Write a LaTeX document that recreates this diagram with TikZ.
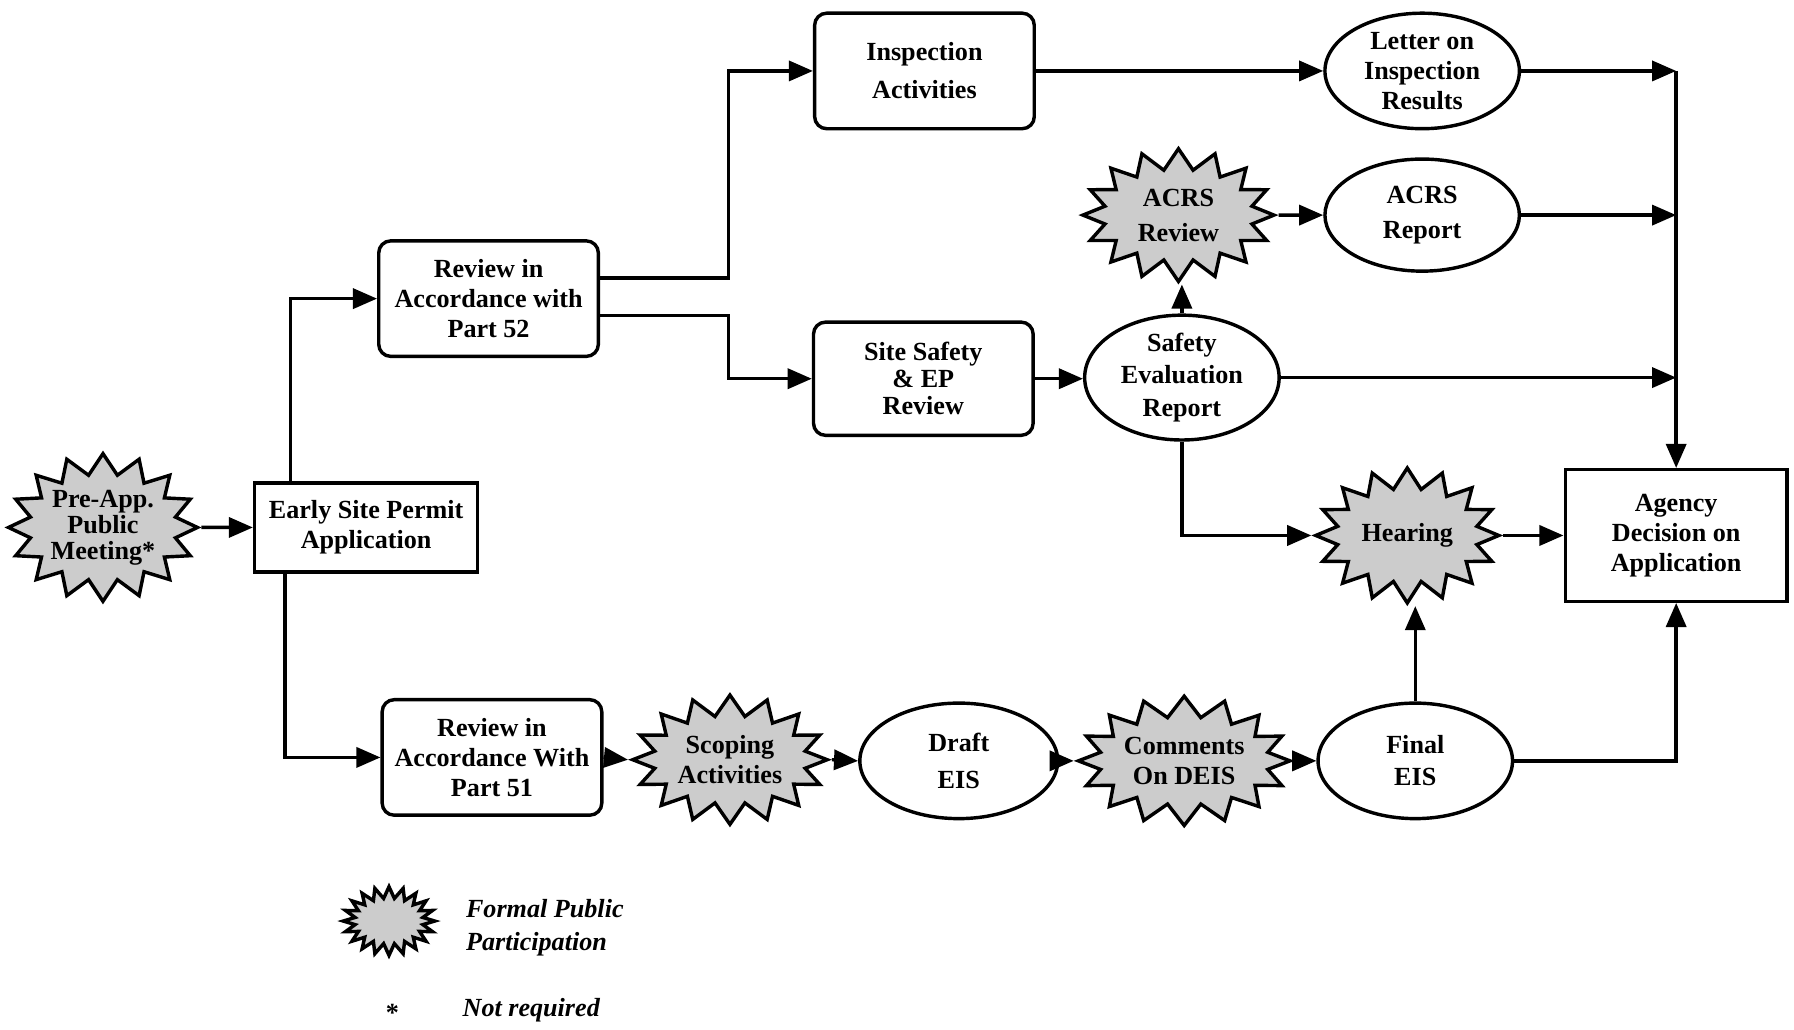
\documentclass[tikz,border=0pt]{standalone}
\usepackage{fontspec}
\setmainfont{Liberation Serif}
\usetikzlibrary{arrows.meta,shapes.geometric,shapes.symbols}
\begin{document}
\begin{tikzpicture}[x=0.02cm,y=-0.02cm,line width=1.7pt,>={Triangle[length=12pt,width=10pt]},
  every node/.style={font=\fontsize{13}{15}\selectfont\bfseries,align=center},
  rbox/.style={draw,rounded corners=6pt,minimum width=3.84cm,minimum height=2.02cm,inner sep=1pt},
  sbox/.style={draw,minimum width=3.9cm,minimum height=1.56cm,inner sep=1pt},
  oval/.style={draw,ellipse,minimum width=3.4cm,minimum height=2.02cm,inner sep=0pt},
  burst/.style={draw,starburst,fill=black!20,starburst points=16,starburst point height=0.36cm,random starburst=0,minimum width=3.3cm,minimum height=2.3cm,inner sep=0pt}]
\useasboundingbox (0,0) rectangle (1568,900);

\node[burst] (preapp) at (90,461) {Pre-App.\\[-2pt]Public\\[-2pt]Meeting*};
\node[sbox] (esp) at (320,461) {Early Site Permit\\Application};
\node[rbox] (rev52) at (427,261) {Review in\\Accordance with\\Part 52};
\node[rbox] (rev51) at (430,662) {Review in\\Accordance With\\Part 51};
\node[rbox] (insp) at (808,62) {Inspection\\[4pt]Activities};
\node[rbox,minimum height=1.98cm] (sitesafety) at (807,331) {Site Safety\\[-1.5pt]\& EP\\[-1.5pt]Review};
\node[oval] (letter) at (1243,62) {Letter on\\Inspection\\Results};
\node[burst,minimum width=3.34cm,minimum height=2.32cm] (acrsrev) at (1030,188) {ACRS\\[2.5pt]Review};
\node[oval,minimum height=1.96cm] (acrsrep) at (1243,188) {ACRS\\[2.5pt]Report};
\node[oval,minimum height=2.08cm] (ser) at (1033,330) {Safety\\[1pt]Evaluation\\[1pt]Report};
\node[burst,minimum width=3.2cm,minimum height=2.36cm] (hearing) at (1230,468) {Hearing};
\node[sbox,minimum width=3.88cm,minimum height=2.3cm] (agency) at (1465,468) {Agency\\Decision on\\Application};
\node[burst,minimum width=3.4cm,minimum height=2.26cm] (scoping) at (638,664) {Scoping\\Activities};
\node[oval,minimum width=3.46cm] (draft) at (838,665) {Draft\\[3.5pt]EIS};
\node[burst,minimum width=3.5cm,minimum height=2.26cm] (comments) at (1035,665) {Comments\\On DEIS};
\node[oval] (final) at (1237,665) {Final\\[1pt]EIS};

% legend
\node[burst,starburst points=20,starburst point height=0.2cm,minimum width=1.6cm,minimum height=1.2cm] (legburst) at (340,805) {};
\node[anchor=west,align=left,font=\fontsize{13}{15}\selectfont\bfseries\itshape] (legtext) at (400,811) {Formal Public\\[1.5pt]Participation};
\node (legstar) at (343,885) {*};
\node[anchor=west,font=\fontsize{13}{15}\selectfont\bfseries\itshape] (legnote) at (397,883) {Not required};

% upper path
\draw[->] (preapp.east) -- (esp.west);
\draw[->] ([xshift=0.66cm]esp.north west) |- (rev52.west);
\draw[->] ([xshift=0.56cm]esp.south west) |- (rev51.west);
\draw[->] ([yshift=0.36cm]rev52.east) -- ++(112,0) |- (insp.west);
\draw[->] ([yshift=-0.3cm]rev52.east) -- ++(112,0) |- (sitesafety.west);
\draw[->] (sitesafety.east) -- (sitesafety.east -| ser.west);
\draw[->] (ser.north) -- (ser.north |- acrsrev.south);
\draw[->] (acrsrev.east) -- (acrsrep.west);
\draw[->] (insp.east) -- (letter.west);
\coordinate (collect) at (1465,62);
\draw[->] (letter.east) -- (collect);
\draw[->] (collect) -- (agency.north);
\draw[->] (acrsrep.east) -- (acrsrep.east -| agency.north);
\draw[->] (ser.east) -- (ser.east -| agency.north);
\draw[->] (ser.south) |- (hearing.west);
\draw[->] (hearing.east) -- (agency.west);

% lower path
\draw[->] (rev51.east) -- (scoping.west);
\draw[->] (scoping.east) -- (draft.west);
\draw[->] (draft.east) -- (comments.west);
\draw[->] (comments.east) -- (final.west);
\draw[->] (final.north) -- (final.north |- hearing.south);
\draw[->] (final.east) -| (agency.south);

\end{tikzpicture}
\end{document}
